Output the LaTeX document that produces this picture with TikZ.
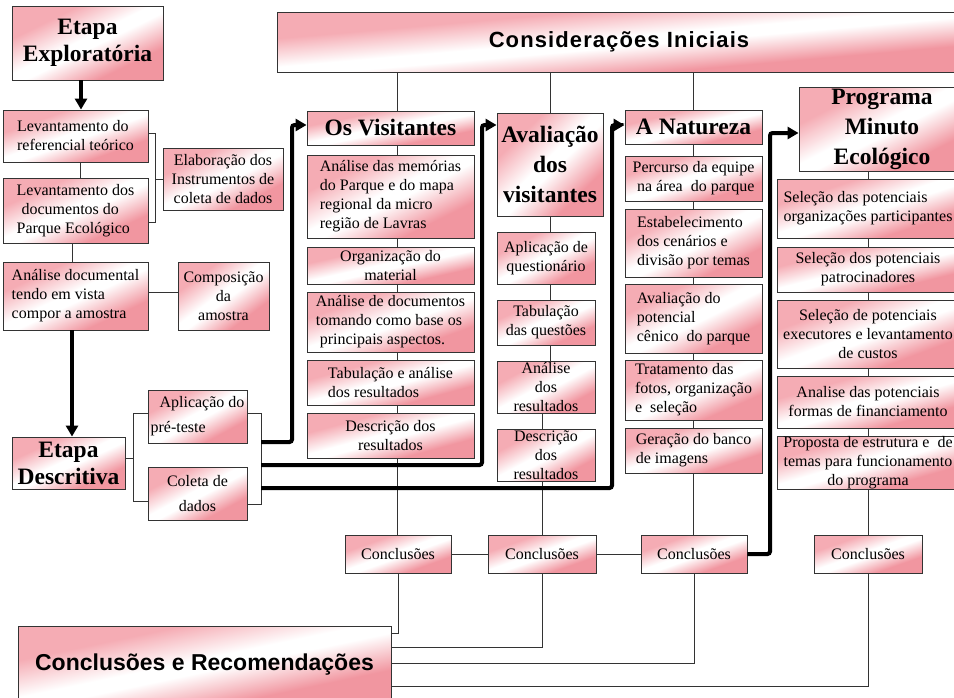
\documentclass[tikz,border=0pt]{standalone}
\usepackage{fontspec}
\setmainfont{Liberation Serif}
\newfontfamily\hsans{Liberation Sans}
\newfontfamily\hsansls[LetterSpace=5]{Liberation Sans}
\usetikzlibrary{arrows.meta,calc}
\definecolor{pka}{RGB}{245,172,180}
\definecolor{pkb}{RGB}{241,150,160}
\pgfdeclareverticalshading{pinkdiag}{100bp}{color(0bp)=(pkb); color(30bp)=(pkb); color(47bp)=(white); color(53bp)=(white); color(70bp)=(pka); color(100bp)=(pka)}
\tikzset{
  bx/.style={draw=black!80, line width=0.9pt,
    inner sep=0pt, font=\fontsize{16}{19}\selectfont, align=center, text=black},
  hd/.style={bx, font=\bfseries\fontsize{23.5}{27}\selectfont},
  hdw/.style={bx, font=\bfseries\fontsize{23.5}{30}\selectfont},
  ln/.style={draw=black!80, line width=0.9pt},
  thk/.style={draw=black, line width=4pt, rounded corners=2.5pt, -{Triangle[length=11pt,width=12pt]}},
}
\newcommand\mkbox[7]{%
  \pgfmathsetmacro\mkW{#5-#3}\pgfmathsetmacro\mkH{#6-#4}%
  \pgfmathsetmacro\mkX{(#3+#5)/2}\pgfmathsetmacro\mkY{(#4+#6)/2}%
  \shade[shading=pinkdiag, shading angle=45,
    transform canvas={shift={(\mkX,\mkY)}, xscale=\mkW/20, yscale=\mkH/20}]
    (-10pt,-10pt) rectangle (10pt,10pt);
  \node[#1, minimum width=\mkW pt, minimum height=\mkH pt] (#2) at (\mkX,\mkY) {#7};}
\begin{document}
\begin{tikzpicture}[x=1pt,y=-1pt]
\fill[white] (0,0) rectangle (954,697);
\useasboundingbox (0,0) rectangle (954,697);
\clip (0,0) rectangle (954,697);

% helper coordinates
\coordinate (X80) at (80,0);
\coordinate (X81) at (81,0);
\coordinate (X72) at (72,0);
\coordinate (X397) at (397,0);
\coordinate (X550) at (550,0);
\coordinate (X542) at (542,0);
\coordinate (X693) at (693,0);
\coordinate (X868) at (868,0);
\coordinate (X292) at (292,0);
\coordinate (X482) at (482,0);
\coordinate (X612) at (612,0);
\coordinate (X770) at (770,0);
\coordinate (Y125) at (0,125);
\coordinate (Y133) at (0,133);
\coordinate (Y292) at (0,292);
\coordinate (Y458) at (0,458);
\coordinate (Y633) at (0,633);
\coordinate (Y647) at (0,647);
\coordinate (Y663) at (0,663);
\coordinate (Y686) at (0,686);
\coordinate (bk) at (155,222);
\coordinate (bl) at (133,413);
\coordinate (bl2) at (133,501);
\coordinate (br) at (261,413);
\coordinate (br2) at (261,504);
\coordinate (t1) at (261,442);
\coordinate (t2) at (261,465);
\coordinate (t3) at (261,488);

% left part
\mkbox{hd}{expl}{12}{6}{163}{80}{Etapa\\Exploratória}
\mkbox{bx,align=left}{lev1}{3}{110}{148}{162}{Levantamento do\\referencial teórico}
\mkbox{bx,align=left}{lev2}{3}{178}{148}{243}{Levantamento dos\\\hspace*{5pt}documentos do\\Parque Ecológico}
\mkbox{bx}{elab}{163}{148}{283}{210}{Elaboração dos\\Instrumentos de\\coleta de dados}
\mkbox{bx,align=left}{anal}{3}{262}{148}{330}{Análise documental\\tendo em vista\\compor a amostra}
\mkbox{bx}{comp}{178}{262}{269}{330}{Composição\\da\\amostra}
\mkbox{hd}{desc}{12}{437}{125}{489}{Etapa\\Descritiva}
\mkbox{bx,align=left,font=\fontsize{16}{25}\selectfont}{aplp}{148}{390}{247}{443}{\hspace*{9pt}Aplicação do\\pré-teste}
\mkbox{bx,font=\fontsize{16}{25}\selectfont}{colp}{148}{467}{247}{520}{Coleta de\\dados}

% top
\mkbox{bx,font=\hsansls\bfseries\fontsize{22}{26}\selectfont}{cons}{277}{12}{961}{72}{Considerações Iniciais}

% Os Visitantes
\mkbox{hd}{vis}{307}{111}{474}{145}{Os Visitantes}
\mkbox{bx,align=left}{v1}{307}{155}{474}{238}{Análise das memórias\\do Parque e do mapa\\regional da micro\\região de Lavras}
\mkbox{bx}{v2}{307}{247}{474}{284}{Organização do\\material}
\mkbox{bx,align=left}{v3}{307}{292}{474}{352}{Análise de documentos\\tomando como base os\\\hspace*{4pt}principais aspectos.}
\mkbox{bx,align=left}{v4}{307}{360}{474}{405}{Tabulação e análise\\dos resultados}
\mkbox{bx}{v5}{307}{413}{474}{458}{Descrição dos\\resultados}

% Avaliacao
\mkbox{hdw}{av}{497}{113}{603}{216}{Avaliação\\dos\\visitantes}
\mkbox{bx}{a1}{497}{232}{595}{284}{Aplicação de\\questionário}
\mkbox{bx}{a2}{497}{300}{595}{345}{Tabulação\\das questões}
\mkbox{bx}{a3}{497}{361}{595}{413}{Análise\\dos\\resultados}
\mkbox{bx}{a4}{497}{429}{595}{481}{Descrição\\dos\\resultados}

% Natureza
\mkbox{hd}{nat}{625}{110}{762}{144}{A Natureza}
\mkbox{bx,align=right}{n1}{625}{156}{762}{201}{Percurso da equipe\\na área\ \ do parque}
\mkbox{bx,align=left}{n2}{625}{209}{762}{277}{Estabelecimento\\dos cenários e\\divisão por temas}
\mkbox{bx,align=left}{n3}{625}{284}{762}{353}{Avaliação do\\potencial\\cênico\ \ do parque}
\mkbox{bx,align=left}{n4}{625}{360}{762}{420}{Tratamento das\\fotos, organização\\e\ \ seleção}
\mkbox{bx,align=left}{n5}{625}{428}{762}{473}{Geração do banco\\de imagens}

% Programa
\mkbox{hdw}{prog}{799}{87}{965}{171}{Programa\\Minuto\\Ecológico}
\mkbox{bx,align=left}{p1}{777}{179}{959}{238}{Seleção das potenciais\\organizações participantes}
\mkbox{bx}{p2}{777}{247}{959}{292}{Seleção dos potenciais\\patrocinadores}
\mkbox{bx}{p3}{777}{300}{959}{368}{Seleção de potenciais\\executores e levantamento\\de custos}
\mkbox{bx}{p4}{777}{376}{959}{428}{Analise das potenciais\\formas de financiamento}
\mkbox{bx}{p5}{777}{436}{959}{489}{Proposta de estrutura e\ \ de\\temas para funcionamento\\do programa}

% Conclusoes
\mkbox{bx}{c1}{345}{535}{451}{573}{Conclusões}
\mkbox{bx}{c2}{488}{535}{596}{573}{Conclusões}
\mkbox{bx}{c3}{641}{535}{747}{573}{Conclusões}
\mkbox{bx}{c4}{814}{535}{922}{573}{Conclusões}
\mkbox{bx,font=\hsans\bfseries\fontsize{23}{27}\selectfont}{cr}{18}{626}{391}{704}{Conclusões e Recomendações}

% thin connectors
\draw[ln] (lev1.south -| X80) -- (lev2.north -| X80);
\draw[ln] (lev1.east |- Y133) -| (bk) -- (bk -| lev2.east);
\draw[ln] (elab.west) -- (elab.west -| bk);
\draw[ln] (lev2.south -| X72) -- (anal.north -| X72);
\draw[ln] (anal.east |- Y292) -- (comp.west |- Y292);
\draw[ln] (desc.east |- Y458) -- (bl |- Y458);
\draw[ln] (aplp.west |- bl) -- (bl) -- (bl2) -- (bl2 -| colp.west);
\draw[ln] (aplp.east |- br) -- (br) -- (br2) -- (br2 -| colp.east);

\draw[ln] (cons.south -| X397) -- (vis.north -| X397);
\foreach \a/\b in {vis/v1,v1/v2,v2/v3,v3/v4,v4/v5,v5/c1}
  \draw[ln] (\a.south -| X397) -- (\b.north -| X397);
\draw[ln] (cons.south -| X550) -- (av.north -| X550);
\foreach \a/\b in {av/a1,a1/a2,a2/a3}
  \draw[ln] (\a.south -| X550) -- (\b.north -| X550);
\foreach \a/\b in {a3/a4,a4/c2}
  \draw[ln] (\a.south -| X542) -- (\b.north -| X542);
\draw[ln] (cons.south -| X693) -- (nat.north -| X693);
\foreach \a/\b in {nat/n1,n1/n2,n2/n3,n3/n4,n4/n5,n5/c3}
  \draw[ln] (\a.south -| X693) -- (\b.north -| X693);
\foreach \a/\b in {prog/p1,p1/p2,p2/p3,p3/p4,p4/p5,p5/c4}
  \draw[ln] (\a.south -| X868) -- (\b.north -| X868);

\draw[ln] (c1.east) -- (c2.west);
\draw[ln] (c2.east) -- (c3.west);
\draw[ln] (c1.south) |- (cr.east |- Y633);
\draw[ln] (c2.south) |- (cr.east |- Y647);
\draw[ln] (c3.south) |- (cr.east |- Y663);
\draw[ln] (c4.south) |- (cr.east |- Y686);

% thick arrows
\draw[thk] (expl.south -| X81) -- (lev1.north -| X81);
\draw[thk] (anal.south -| X72) -- (desc.north -| X72);
\draw[thk] (t1) -| (X292 |- Y125) -- (vis.west |- Y125);
\draw[thk] (t2) -| (X482 |- Y125) -- (av.west |- Y125);
\draw[thk] (t3) -| (X612 |- Y125) -- (nat.west |- Y125);
\draw[thk] (c3.east) -| (X770 |- Y133) -- (prog.west |- Y133);
\end{tikzpicture}
\end{document}
